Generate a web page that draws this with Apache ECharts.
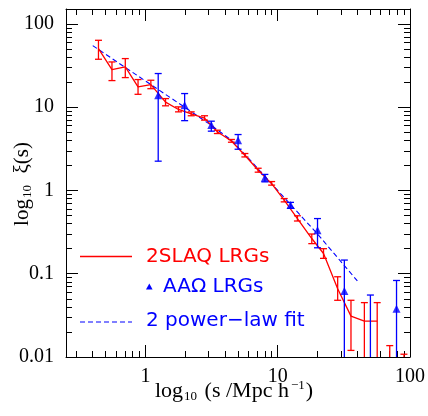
<!DOCTYPE html>
<html>
<head>
<meta charset="utf-8">
<script src="https://cdn.jsdelivr.net/npm/echarts@6/dist/echarts.min.js"></script>
<style>html,body{margin:0;padding:0;background:#fff}#c{width:428px;height:416px}</style>
</head>
<body>
<div id="c"></div>
<script>
// 2SLAQ LRGs (red line with error bars)
const redS  = [0.442,0.559,0.705,0.88,1.10,1.42,1.78,2.22,2.8,3.5,4.47,5.65,7.12,9.0,11.2,14.1,18.1,22.2,28.4,35.8,45.2,56.5,70.3,90];
const redXi = [50.7,28.3,30.5,17.6,18.7,11.5,9.4,8.33,7.4,5.07,3.93,2.65,1.75,1.21,0.765,0.46,0.265,0.175,0.066,0.031,0.027,0.027,null,null];
const redLo = [37.7,20.9,22.7,14.3,16.7,10.4,8.8,7.9,7.0,4.83,3.8,2.53,1.66,1.16,0.73,0.43,0.23,0.153,0.048,0.012,null,null,null,null];
const redHi = [63.7,35,38.4,21.5,21.1,12.7,10.1,8.8,7.9,5.3,4.1,2.78,1.85,1.28,0.80,0.497,0.30,0.20,0.092,0.048,0.045,0.045,0.0137,0.0108];
// AAOmega LRGs (blue triangles with error bars)
const blueS  = [1.25,1.98,3.15,5.02,8.0,12.5,20,31.9,50.2,79.1];
const blueXi = [13.9,10.6,6.1,4.0,1.42,0.67,0.334,0.062,null,0.038];
const blueLo = [2.25,6.9,5.16,3.13,1.27,0.61,0.205,null,null,null];
const blueHi = [25.4,14.6,6.8,4.7,1.56,0.72,0.46,0.146,0.0555,0.083];
// 2 power-law fit (dashed)
const fitS  = [0.4,1,2,3,4.4,6,10,20,40];
const fitXi = [55,20.7,9.9,6.4,4.1,2.45,1.0,0.30,0.082];
// ticks
const xMajor = [1,10,100];
const xMinor = [0.3,0.4,0.5,0.6,0.7,0.8,0.9,2,3,4,5,6,7,8,9,20,30,40,50,60,70,80,90];
const yMajor = [0.01,0.1,1,10,100];
const yMinor = [0.02,0.03,0.04,0.05,0.06,0.07,0.08,0.09,0.2,0.3,0.4,0.5,0.6,0.7,0.8,0.9,2,3,4,5,6,7,8,9,20,30,40,50,60,70,80,90];

const L = v => Math.log10(v);
const XMIN = -0.6, XMAX = 2.0, YMIN = -2, YMAX = 2.18;
const BELOW = YMIN - 2;

function fmt(v){ const p = Math.round(v); return p >= 0 ? String(Math.pow(10,p)) : Math.pow(10,p).toFixed(-p); }

function axisX(pos, major, labels){
  return {
    type:'value', position:pos, min:XMIN, max:XMAX, gridIndex:0,
    axisLine:{show:major, onZero:false, lineStyle:{color:'#000', width:1}},
    axisTick:{show:true, inside:true, length: major?12:6, lineStyle:{color:'#000', width:1},
      customValues:(major?xMajor:xMinor).map(L)},
    axisLabel:{show:labels, customValues:xMajor.map(L), formatter:fmt, margin:10,
      fontFamily:'Liberation Serif', fontSize:20, color:'#000'},
    splitLine:{show:false}
  };
}
function axisY(pos, major, labels){
  return {
    type:'value', position:pos, min:YMIN, max:YMAX, gridIndex:0,
    axisLine:{show:major, onZero:false, lineStyle:{color:'#000', width:1}},
    axisTick:{show:true, inside:true, length: major?12:6, lineStyle:{color:'#000', width:1},
      customValues:(major?yMajor:yMinor).map(L)},
    axisLabel:{show:labels, customValues:yMajor.map(L), formatter:fmt, margin:12,
      fontFamily:'Liberation Serif', fontSize:20, color:'#000'},
    splitLine:{show:false}
  };
}

function errData(s, lo, hi){
  const out = [];
  for (let i=0;i<s.length;i++){
    if (hi[i]==null) continue;
    out.push([L(s[i]), lo[i]==null?BELOW:L(lo[i]), L(hi[i])]);
  }
  return out;
}
function ptData(s, v){
  const out = [];
  for (let i=0;i<s.length;i++) if (v[i]!=null) out.push([L(s[i]), L(v[i])]);
  return out;
}
function errRender(color){
  return function(params, api){
    const x = api.value(0);
    const a = api.coord([x, api.value(1)]);
    const b = api.coord([x, api.value(2)]);
    const w = 3.5;
    const st = {stroke:color, lineWidth:1.3};
    return {type:'group', children:[
      {type:'line', shape:{x1:a[0],y1:a[1],x2:b[0],y2:b[1]}, style:st},
      {type:'line', shape:{x1:a[0]-w,y1:a[1],x2:a[0]+w,y2:a[1]}, style:st},
      {type:'line', shape:{x1:b[0]-w,y1:b[1],x2:b[0]+w,y2:b[1]}, style:st}
    ]};
  };
}

const RED = '#ff0000', BLUE = '#0000ff';
const chart = echarts.init(document.getElementById('c'), null, {renderer:'canvas'});
chart.setOption({
  backgroundColor:'#fff',
  animation:false,
  grid:{left:66, right:18, top:9, bottom:59, containLabel:false},
  xAxis:[axisX('bottom',true,true), axisX('bottom',false,false), axisX('top',true,false), axisX('top',false,false)],
  yAxis:[axisY('left',true,true), axisY('left',false,false), axisY('right',true,false), axisY('right',false,false)],
  series:[
    {type:'line', data:ptData(fitS, fitXi), symbol:'none', lineStyle:{color:BLUE, width:1.1, type:[5,3]}, z:2},
    {type:'custom', data:errData(redS, redLo, redHi), renderItem:errRender(RED), clip:true, z:3},
    {type:'line', data:ptData(redS, redXi), symbol:'none', lineStyle:{color:RED, width:1.3}, z:4},
    {type:'custom', data:errData(blueS, blueLo, blueHi), renderItem:errRender(BLUE), clip:true, z:5},
    {type:'scatter', data:ptData(blueS, blueXi), symbol:'triangle', symbolSize:8, itemStyle:{color:BLUE}, clip:true, z:6}
  ],
  graphic:[
    {type:'text', x:234, y:391, style:{
      text:'{a|log}{s|10}{a| (s /Mpc h}{p|−1}{a|)}', align:'center', verticalAlign:'middle',
      rich:{a:{fontFamily:'Liberation Serif', fontSize:22, color:'#000', lineHeight:24},
            s:{fontFamily:'Liberation Serif', fontSize:13, color:'#000', verticalAlign:'bottom', lineHeight:24, padding:[0,2,0,1]},
            p:{fontFamily:'Liberation Serif', fontSize:13, color:'#000', verticalAlign:'top', lineHeight:24, padding:[0,1,0,2]}}
    }},
    {type:'text', x:22, y:184, rotation:Math.PI/2, style:{
      text:'{a|log}{s|10}{a|  ξ(s)}', align:'center', verticalAlign:'middle',
      rich:{a:{fontFamily:'Liberation Serif', fontSize:21, color:'#000', lineHeight:24},
            s:{fontFamily:'Liberation Serif', fontSize:13, color:'#000', verticalAlign:'bottom', lineHeight:24, padding:[0,1,0,1]}}
    }},
    {type:'line', shape:{x1:80,y1:256.5,x2:132,y2:256.5}, style:{stroke:RED, lineWidth:1.3}},
    {type:'text', x:146, y:256.5, style:{text:'2SLAQ LRGs', fill:RED, fontFamily:'DejaVu Sans', fontSize:20, verticalAlign:'middle'}},
    {type:'polygon', shape:{points:[[149.3,283.5],[146,289.5],[152.6,289.5]]}, style:{fill:BLUE}},
    {type:'text', x:163, y:287, style:{text:'AAΩ LRGs', fill:BLUE, fontFamily:'DejaVu Sans', fontSize:20, verticalAlign:'middle'}},
    {type:'line', shape:{x1:80,y1:322,x2:132,y2:322}, style:{stroke:BLUE, lineWidth:1.1, lineDash:[5,3]}},
    {type:'text', x:146, y:321, style:{text:'2 power−law fit', fill:BLUE, fontFamily:'DejaVu Sans', fontSize:20, verticalAlign:'middle'}}
  ]
});
</script>
</body>
</html>
